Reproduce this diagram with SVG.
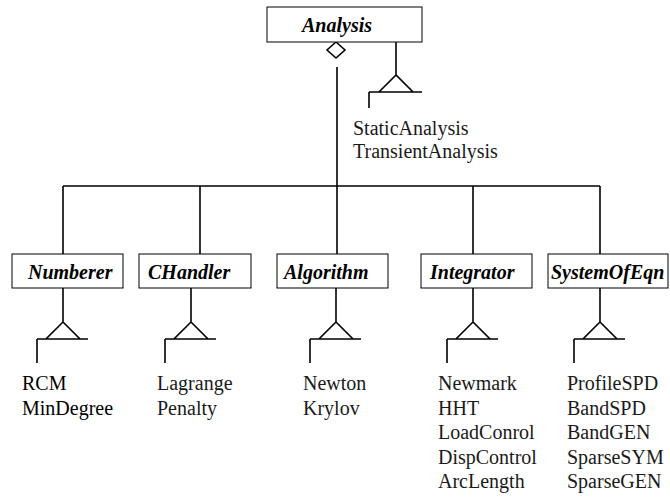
<svg xmlns="http://www.w3.org/2000/svg" width="670" height="497" viewBox="0 0 670 497" font-family="Liberation Serif, DejaVu Serif, serif" font-size="20">
<style>
.box{fill:#fff;stroke:#000;stroke-width:1}
.lbl{font-weight:bold;font-style:italic;fill:#000}
.sub{fill:#1a1a1a}
.dark{fill:#000}
.ln{fill:none;stroke:#000;stroke-width:1.6}
</style>
<rect width="670" height="497" fill="#fff"/>
<g id="connectors">
  <polygon class="ln" points="336,42 345,50 336,58 327,50"/>
  <path class="ln" d="M337,67 V186 M63,186 H600 M63,186 V254 M200,186 V254 M337,186 V254 M473,186 V254 M600,186 V254"/>
  <path class="ln" d="M396,42 V75 M396,75 L379,92 H413 Z M369,92 H422 M369,92 V108"/>
  <path class="ln" d="M63,288 V322 L46,339 H80 L63,322 M37,339 H88 M37,339 V363"/>
  <path class="ln" d="M191,288 V322 L174,339 H208 L191,322 M165,339 H216 M165,339 V363"/>
  <path class="ln" d="M336,288 V322 L319,339 H353 L336,322 M310,339 H361 M310,339 V363"/>
  <path class="ln" d="M473,288 V322 L456,339 H490 L473,322 M447,339 H498 M447,339 V363"/>
  <path class="ln" d="M600,288 V322 L583,339 H617 L600,322 M574,339 H625 M574,339 V363"/>
</g>
<g id="Analysis">
  <rect class="box" x="267" y="7" width="155" height="35"/>
  <text class="lbl" x="302" y="32" font-family="Liberation Serif">Analysis</text>
</g>
<g id="AnalysisSub">
  <text class="sub" x="353" y="135" font-family="Liberation Serif">StaticAnalysis</text>
  <text class="sub" x="353" y="158" font-family="Liberation Serif">TransientAnalysis</text>
</g>
<g id="Numberer">
  <rect class="box" x="12" y="254" width="111" height="34"/>
  <text class="lbl" x="28" y="279" font-family="Liberation Serif">Numberer</text>
</g>
<g id="CHandler">
  <rect class="box" x="139" y="254" width="112" height="34"/>
  <text class="lbl" x="148" y="279" font-family="Liberation Serif">CHandler</text>
</g>
<g id="Algorithm">
  <rect class="box" x="277" y="254" width="111" height="34"/>
  <text class="lbl" x="284" y="279" font-family="Liberation Serif">Algorithm</text>
</g>
<g id="Integrator">
  <rect class="box" x="421" y="254" width="111" height="34"/>
  <text class="lbl" x="430" y="279" font-family="Liberation Serif">Integrator</text>
</g>
<g id="SystemOfEqn">
  <rect class="box" x="548" y="254" width="120" height="34"/>
  <text class="lbl" x="551" y="279" font-family="Liberation Serif">SystemOfEqn</text>
</g>
<g id="NumbererSub" font-family="Liberation Serif">
  <text class="sub dark" x="22" y="390">RCM</text>
  <text class="sub dark" x="22" y="415">MinDegree</text>
</g>
<g id="CHandlerSub" font-family="Liberation Serif">
  <text class="sub" x="157" y="390">Lagrange</text>
  <text class="sub" x="157" y="415">Penalty</text>
</g>
<g id="AlgorithmSub" font-family="Liberation Serif">
  <text class="sub" x="303" y="390">Newton</text>
  <text class="sub" x="303" y="415">Krylov</text>
</g>
<g id="IntegratorSub" font-family="Liberation Serif">
  <text class="sub" x="438" y="390">Newmark</text>
  <text class="sub" x="438" y="415">HHT</text>
  <text class="sub" x="438" y="439">LoadConrol</text>
  <text class="sub" x="438" y="464">DispControl</text>
  <text class="sub" x="438" y="488">ArcLength</text>
</g>
<g id="SystemOfEqnSub" font-family="Liberation Serif">
  <text class="sub" x="567" y="390">ProfileSPD</text>
  <text class="sub" x="567" y="415">BandSPD</text>
  <text class="sub" x="567" y="439">BandGEN</text>
  <text class="sub" x="567" y="464">SparseSYM</text>
  <text class="sub" x="567" y="488">SparseGEN</text>
</g>
</svg>
